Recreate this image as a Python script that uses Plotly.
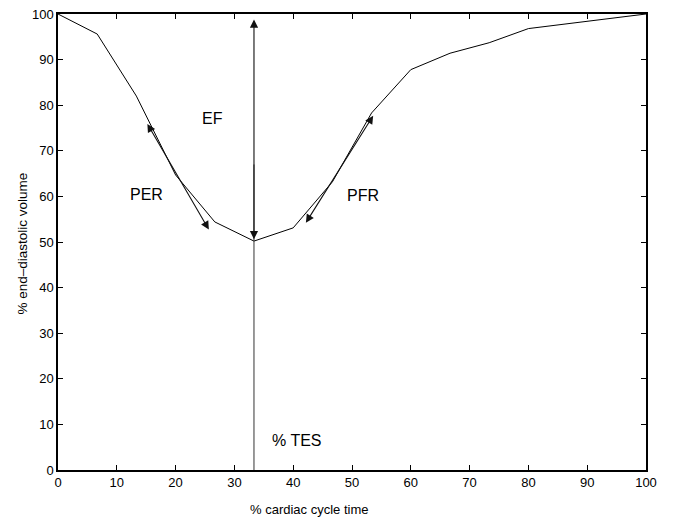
import plotly.graph_objects as go

# main curve: % end-diastolic volume vs % cardiac cycle time
time_pct = [0, 6.67, 13.33, 20, 26.67, 33.33, 40, 46.67, 53.33, 60, 66.67, 73.33, 80, 86.67, 93.33, 100]
volume_pct = [100, 95.6, 82, 64.7, 54.4, 50.2, 53.1, 63.2, 78.3, 87.8, 91.4, 93.7, 96.8, 97.9, 98.9, 100]

# time of end-systole marker
tes_x = [33.33, 33.33]
tes_y = [0, 67]

# arrows: (tail_x, tail_y, head_x, head_y)
ef_arrow = (33.33, 50.3, 33.33, 98.8)
per_arrow = (25.8, 52.4, 15.2, 75.9)
pfr_arrow = (42.0, 53.9, 53.6, 77.7)

labels = ["EF", "PER", "PFR", "% TES"]
label_x = [26.3, 15.0, 51.8, 40.7]
label_y = [77.0, 60.5, 60.2, 6.5]

x_ticks = list(range(0, 101, 10))
y_ticks = list(range(0, 101, 10))

FONT = "Liberation Sans, Arial, sans-serif"
L, R, T, B = 58, 32, 7, 50
W, H = 678, 520
PW, PH = W - L - R, H - T - B

fig = go.Figure()
fig.add_trace(go.Scatter(x=time_pct, y=volume_pct, mode="lines",
                         line=dict(color="black", width=1), showlegend=False, hoverinfo="skip"))
fig.add_trace(go.Scatter(x=tes_x, y=tes_y, mode="lines",
                         line=dict(color="#333", width=1), showlegend=False, hoverinfo="skip"))

for (tx, ty, hx, hy) in [ef_arrow, per_arrow, pfr_arrow]:
    fig.add_annotation(x=hx, y=hy, ax=tx, ay=ty, xref="x", yref="y", axref="x", ayref="y",
                       showarrow=True, arrowhead=2, startarrowhead=2, arrowside="end+start",
                       arrowsize=1.5, startarrowsize=1.5, arrowwidth=1.1, arrowcolor="#111", text="")

for t, lx, ly in zip(labels, label_x, label_y):
    fig.add_annotation(x=lx, y=ly, xref="x", yref="y", text=t, showarrow=False,
                       font=dict(size=16, color="black", family=FONT))

# axis titles (placed as in the original figure)
fig.add_annotation(x=(309 - L) / PW, y=-(510 - (H - B)) / PH, xref="paper", yref="paper",
                   xanchor="center", yanchor="middle", text="% cardiac cycle time",
                   showarrow=False, font=dict(size=13, color="black", family=FONT))
fig.add_annotation(x=-(L - 22) / PW, y=1 - (240 - T) / PH, xref="paper", yref="paper",
                   xanchor="center", yanchor="middle",
                   text="% end–diastolic volume", textangle=-90, showarrow=False,
                   font=dict(size=13.5, color="black", family=FONT))

axis_common = dict(showline=True, linecolor="black", linewidth=1.5, mirror="ticks",
                   ticks="inside", ticklen=5, tickwidth=1, tickcolor="black", showgrid=False, zeroline=False,
                   tickfont=dict(size=13, color="black", family=FONT))

fig.update_xaxes(range=[0, 100], tickvals=x_ticks, **axis_common)
fig.update_yaxes(range=[0, 100], tickvals=y_ticks, **axis_common)

fig.update_layout(width=W, height=H, margin=dict(l=L, r=R, t=T, b=B),
                  plot_bgcolor="white", paper_bgcolor="white",
                  font=dict(family=FONT, color="black"))

fig.write_html("out.html")
